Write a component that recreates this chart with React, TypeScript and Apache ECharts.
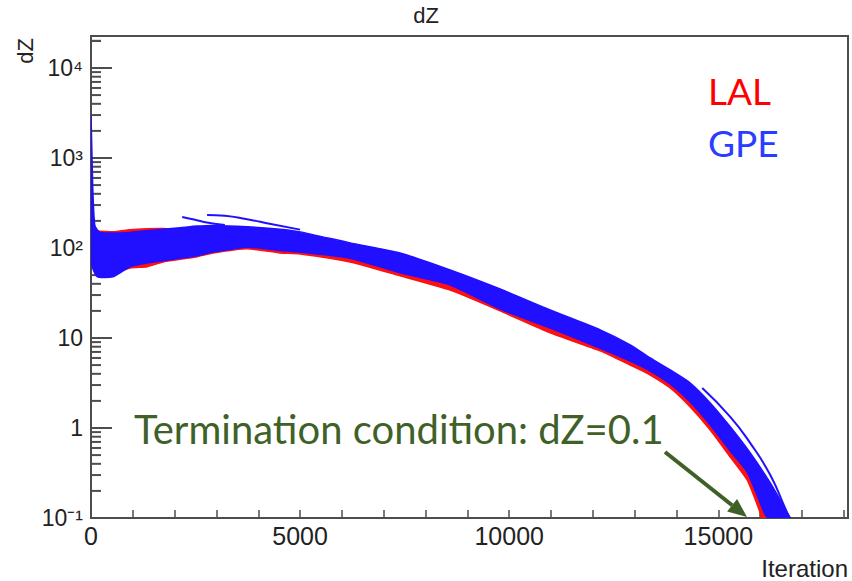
import React, { useEffect, useRef } from "react";
import * as echarts from "echarts";

// ---- data (iteration, dZ) ----
const GPE_UPPER: [number, number][] = [
  [0, 2900], [40, 500], [90, 180], [200, 150], [526, 147], [933, 149], [1340, 155],
  [1722, 162], [2129, 168], [2536, 175], [2919, 178], [3732, 172], [4521, 162],
  [5000, 151], [6195, 114], [7391, 88], [8587, 57], [9783, 35], [10979, 20.5],
  [12175, 12.3], [12893, 8.4], [13371, 6.0], [13850, 4.41], [14328, 3.16],
  [14806, 1.9], [15285, 1.03], [15763, 0.527], [16242, 0.245], [16648, 0.114],
  [16700, 0.1],
];
const GPE_LOWER: [number, number][] = [
  [0, 70], [150, 48], [526, 48], [933, 62], [1340, 68], [1722, 72], [2129, 77],
  [2536, 82], [2919, 90], [3732, 102], [4521, 94], [5000, 90], [6195, 77],
  [7391, 53], [8587, 38.8], [9783, 21], [10979, 12.9], [12175, 7.7], [12893, 5.55],
  [13371, 4.3], [13850, 3.08], [14328, 1.94], [14806, 1.08], [15285, 0.555],
  [15691, 0.324], [16100, 0.114], [16194, 0.1],
];
const LAL_UPPER: [number, number][] = [
  [0, 900], [40, 300], [100, 160], [526, 152], [933, 160], [1340, 164], [1722, 165],
  [2129, 162], [2536, 160], [3732, 155], [5000, 135], [6195, 100], [7391, 78],
  [8587, 50], [9783, 30], [10979, 18], [12175, 10.5], [12893, 7.2], [13850, 3.98],
  [14806, 1.71], [15763, 0.476], [16481, 0.114], [16520, 0.1],
];
const LAL_LOWER: [number, number][] = [
  [0, 80], [150, 55], [526, 52], [933, 60], [1340, 62], [1722, 70], [2129, 75],
  [2536, 80], [2919, 88], [3732, 98], [4521, 88], [5000, 86], [6195, 70],
  [7391, 49], [8587, 34], [9783, 20], [10979, 11.4], [12175, 7.2], [12893, 5.0],
  [13371, 3.88], [13850, 2.78], [14328, 1.71], [14806, 0.95], [15285, 0.476],
  [15691, 0.264], [16003, 0.114], [16030, 0.1],
];
// stray GPE runs that leave the band
const GPE_STRAY_1: [number, number][] = [[2180, 221], [2400, 210], [2700, 195], [3200, 180]];
const GPE_STRAY_2: [number, number][] = [[2775, 233], [3200, 228], [3700, 210], [4300, 185], [5000, 160]];
const GPE_STRAY_3: [number, number][] = [[14615, 2.78], [15285, 1.33], [15763, 0.68], [16242, 0.3], [16648, 0.114], [16720, 0.1]];

// ---- axes ----
const X_TICK_LABELS = ["0", "5000", "10000", "15000"];
const Y_TICK_LABELS = ["10\u207B\u00B9", "1", "10", "10\u00B2", "10\u00B3", "10\u2074"];
const Y_DECADES = [0.1, 1, 10, 100, 1000, 10000];
const Y_MINOR_STEPS = [2, 3, 4, 5, 6, 7, 8, 9];

const AXIS_COLOR = "#4d4d4d";
const LABEL_FONT = '"Liberation Sans", Arial, sans-serif';

function bandSeries(name: string, upper: [number, number][], lower: [number, number][], color: string) {
  const poly = [...upper, ...lower.slice().reverse()];
  return {
    type: "custom",
    name,
    silent: true,
    clip: true,
    data: poly,
    renderItem: (params: any, api: any) => {
      if (params.dataIndex !== 0) return null;
      const pts = poly.map((p) => api.coord(p));
      return {
        type: "polygon",
        shape: { points: pts, smooth: 0.2 },
        style: { fill: color, stroke: color, lineWidth: 1.5 },
      };
    },
  };
}

function strayLine(data: [number, number][], color: string) {
  return {
    type: "line",
    data,
    symbol: "none",
    silent: true,
    smooth: true,
    lineStyle: { color, width: 2 },
  };
}

export default function App() {
  const ref = useRef<HTMLDivElement>(null);

  useEffect(() => {
    if (!ref.current) return;
    const chart = echarts.init(ref.current, null, { renderer: "svg" });

    const minorY: [number, number][] = [];
    Y_DECADES.forEach((d) => Y_MINOR_STEPS.forEach((m) => {
      const v = d * m;
      if (v <= 22670) minorY.push([0, v]);
    }));
    minorY.push([0, 20000]);

    // arrow geometry (annotation, pixels)
    const tip = [747, 517];
    const tail = [665, 452];
    const dx = tip[0] - tail[0];
    const dy = tip[1] - tail[1];
    const len = Math.hypot(dx, dy);
    const ux = dx / len, uy = dy / len;
    const headL = 19, headW = 8;
    const base = [tip[0] - ux * headL, tip[1] - uy * headL];

    chart.setOption({
      animation: false,
      backgroundColor: "#ffffff",
      grid: {
        left: 91, right: 4, top: 36, bottom: 63,
        show: true, borderColor: AXIS_COLOR, borderWidth: 2, backgroundColor: "transparent",
      },
      xAxis: {
        type: "value",
        min: 0,
        max: 18100,
        interval: 1000,
        axisLine: { show: true, lineStyle: { color: AXIS_COLOR, width: 2 } },
        axisTick: { show: true, inside: true, length: 8, lineStyle: { color: AXIS_COLOR, width: 1.5 } },
        splitLine: { show: false },
        axisLabel: {
          showMaxLabel: false,
          margin: 5,
          color: "#222",
          fontSize: 25,
          fontFamily: LABEL_FONT,
          formatter: (v: number) => {
            const i = Math.round(v / 5000);
            return v % 5000 === 0 && i < X_TICK_LABELS.length ? X_TICK_LABELS[i] : "";
          },
        },
      },
      yAxis: {
        type: "log",
        logBase: 10,
        min: 0.1,
        max: 22670,
        axisLine: { show: true, lineStyle: { color: AXIS_COLOR, width: 2 } },
        axisTick: { show: true, inside: true, length: 21, lineStyle: { color: AXIS_COLOR, width: 2 } },
        splitLine: { show: false },
        axisLabel: {
          showMaxLabel: false,
          margin: 8,
          color: "#222",
          fontSize: 23,
          fontFamily: LABEL_FONT,
          formatter: (v: number) => {
            const e = Math.round(Math.log10(v));
            const i = e + 1;
            return i >= 0 && i < Y_TICK_LABELS.length ? Y_TICK_LABELS[i] : "";
          },
        },
      },
      series: [
        {
          type: "custom",
          silent: true,
          clip: false,
          data: minorY,
          renderItem: (params: any, api: any) => {
            const p = api.coord([0, api.value(1)]);
            return {
              type: "line",
              shape: { x1: p[0], y1: p[1], x2: p[0] + 10, y2: p[1] },
              style: { stroke: AXIS_COLOR, lineWidth: 2 },
            };
          },
        },
        bandSeries("LAL", LAL_UPPER, LAL_LOWER, "#ff1010"),
        bandSeries("GPE", GPE_UPPER, GPE_LOWER, "#2010ff"),
        strayLine(GPE_STRAY_1, "#2010ff"),
        strayLine(GPE_STRAY_2, "#2010ff"),
        strayLine(GPE_STRAY_3, "#2010ff"),
      ],
      graphic: [
        {
          type: "text", x: 426, y: 15,
          style: { text: "dZ", fontSize: 22, fontFamily: LABEL_FONT, fill: "#222", align: "center", verticalAlign: "middle" },
        },
        {
          type: "text", x: 25, y: 51, rotation: Math.PI / 2,
          style: { text: "dZ", fontSize: 22, fontFamily: LABEL_FONT, fill: "#222", align: "center", verticalAlign: "middle" },
        },
        {
          type: "text", x: 848, y: 568,
          style: { text: "Iteration", fontSize: 24, fontFamily: LABEL_FONT, fill: "#222", align: "right", verticalAlign: "middle" },
        },
        {
          type: "text", x: 708, y: 90,
          style: { text: "LAL", fontSize: 37, fontFamily: "Lato", fill: "#ff0000", align: "left", verticalAlign: "middle" },
        },
        {
          type: "text", x: 708, y: 142,
          style: { text: "GPE", fontSize: 37, fontFamily: "Lato", fill: "#2a3cff", align: "left", verticalAlign: "middle" },
        },
        {
          type: "text", x: 134, y: 429,
          style: { text: "Termination condition: dZ=0.1", fontSize: 40, fontFamily: "Lato", fill: "#3f6128", align: "left", verticalAlign: "middle" },
        },
        {
          type: "line",
          shape: { x1: tail[0], y1: tail[1], x2: base[0], y2: base[1] },
          style: { stroke: "#3f6128", lineWidth: 4 },
        },
        {
          type: "polygon",
          shape: {
            points: [
              tip,
              [base[0] - uy * headW, base[1] + ux * headW],
              [base[0] + uy * headW, base[1] - ux * headW],
            ],
          },
          style: { fill: "#3f6128" },
        },
      ],
    });

    return () => chart.dispose();
  }, []);

  return (
    <div
      ref={ref}
      style={{ position: "fixed", left: 0, top: 0, width: 852, height: 581, background: "#fff" }}
    />
  );
}
